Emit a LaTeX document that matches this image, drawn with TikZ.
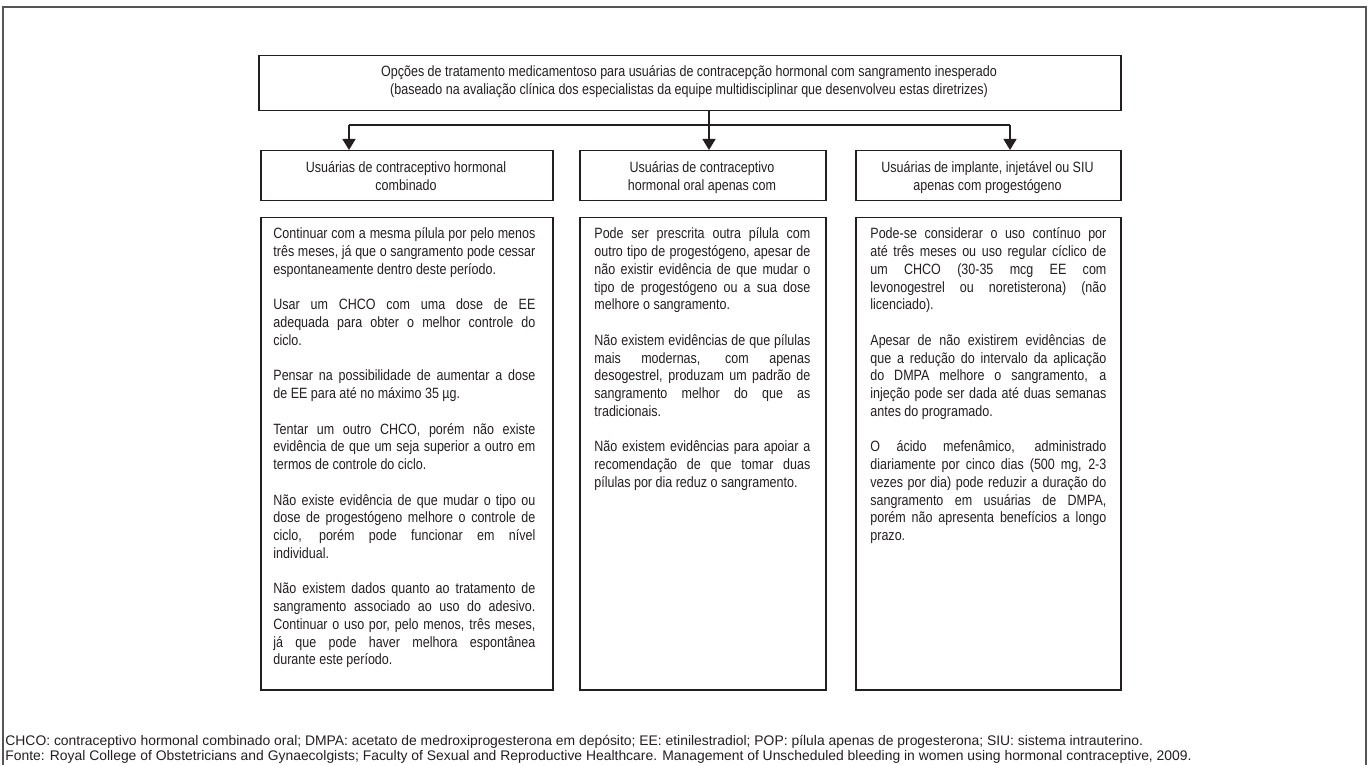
\documentclass[tikz,border=0pt]{standalone}
\usepackage{fontspec}
\setmainfont[FakeStretch=0.84]{Liberation Sans}
\newfontfamily\fnfont{Liberation Sans}
\usetikzlibrary{arrows.meta}
\definecolor{ink}{HTML}{231F20}
\definecolor{framec}{HTML}{555555}
\newlength\cw
\newcommand{\jl}[1]{\makebox[\cw][s]{#1}\\}
\newcommand{\pgap}{\\[8.875pt]}
\newcommand{\bodyfont}{\fontsize{7.45pt}{8.875pt}\selectfont}
\begin{document}
\begin{tikzpicture}[x=0.5pt,y=-0.5pt,
  box/.style={draw=ink, line width=0.75pt, inner sep=0pt, anchor=north west},
  conn/.style={draw=ink, line width=0.65pt},
  arr/.style={conn, -{Triangle[width=6.5pt,length=5.5pt]}},
  txt/.style={inner sep=0pt, text=ink, font=\bodyfont},
  fn/.style={inner sep=0pt, text=ink, anchor=base west, font=\fnfont\fontsize{6.95pt}{8pt}\selectfont}]
\useasboundingbox (0,0) rectangle (1372,765);
% outer frame
\draw[framec, line width=0.6pt] (3,765) -- (3,7) -- (1366,7) -- (1366,765);
% title
\node[box, minimum width=431pt, minimum height=27.5pt] (title) at (258,55) {};
\node[txt, anchor=base] (titletxt) at (689,77) {\parbox[t]{431pt}{\centering\fontsize{7.45pt}{9pt}\selectfont
Opções de tratamento medicamentoso para usuárias de contracepção hormonal com sangramento inesperado\\
(baseado na avaliação clínica dos especialistas da equipe multidisciplinar que desenvolveu estas diretrizes)}};
% header boxes
\node[box, minimum width=146pt, minimum height=25pt] (hL) at (260,150) {};
\node[box, minimum width=123pt, minimum height=25pt] (hM) at (579,150) {};
\node[box, minimum width=132.5pt, minimum height=25pt] (hR) at (855,150) {};
\node[txt, anchor=base] (hLt) at (406,173) {\parbox[t]{146pt}{\centering\fontsize{7.45pt}{9pt}\selectfont Usuárias de contraceptivo hormonal\\ combinado}};
\node[txt, anchor=base] (hMt) at (702,173) {\parbox[t]{123pt}{\centering\fontsize{7.45pt}{9pt}\selectfont Usuárias de contraceptivo\\ hormonal oral apenas com}};
\node[txt, anchor=base] (hRt) at (987.5,173) {\parbox[t]{132.5pt}{\centering\fontsize{7.45pt}{9pt}\selectfont Usuárias de implante, injetável ou SIU\\ apenas com progestógeno}};
% connectors
\coordinate (jL) at (349,125);
\coordinate (jM) at (709,125);
\coordinate (jR) at (1010,125);
\draw[conn] (jL) -- (jR);
\draw[arr] (jM |- title.south) -- (jM |- hM.north);
\draw[arr] (jL) -- (jL |- hL.north);
\draw[arr] (jR) -- (jR |- hR.north);
% body boxes
\node[box, minimum width=146pt, minimum height=236pt] (bL) at (260,217) {};
\node[box, minimum width=123pt, minimum height=236pt] (bM) at (579,217) {};
\node[box, minimum width=132.5pt, minimum height=236pt] (bR) at (855,217) {};
% left body text
\node[txt, anchor=base west] (bLt) at (273,239) {\setlength\cw{131pt}\parbox[t]{\cw}{\bodyfont
\jl{Continuar com a mesma pílula por pelo menos}
\jl{três meses, já que o sangramento pode cessar}
espontaneamente dentro deste período.\pgap
\jl{Usar um CHCO com uma dose de EE}
\jl{adequada para obter o melhor controle do}
ciclo.\pgap
\jl{Pensar na possibilidade de aumentar a dose}
de EE para até no máximo 35 µg.\pgap
\jl{Tentar um outro CHCO, porém não existe}
\jl{evidência de que um seja superior a outro em}
termos de controle do ciclo.\pgap
\jl{Não existe evidência de que mudar o tipo ou}
\jl{dose de progestógeno melhore o controle de}
\jl{ciclo, porém pode funcionar em nível}
individual.\pgap
\jl{Não existem dados quanto ao tratamento de}
\jl{sangramento associado ao uso do adesivo.}
\jl{Continuar o uso por, pelo menos, três meses,}
\jl{já que pode haver melhora espontânea}
durante este período.}};
% middle body text
\node[txt, anchor=base west] (bMt) at (594,239) {\setlength\cw{108pt}\parbox[t]{\cw}{\bodyfont
\jl{Pode ser prescrita outra pílula com}
\jl{outro tipo de progestógeno, apesar de}
\jl{não existir evidência de que mudar o}
\jl{tipo de progestógeno ou a sua dose}
melhore o sangramento.\pgap
\jl{Não existem evidências de que pílulas}
\jl{mais modernas, com apenas}
\jl{desogestrel, produzam um padrão de}
\jl{sangramento melhor do que as}
tradicionais.\pgap
\jl{Não existem evidências para apoiar a}
\jl{recomendação de que tomar duas}
pílulas por dia reduz o sangramento.}};
% right body text
\node[txt, anchor=base west] (bRt) at (870,239) {\setlength\cw{118pt}\parbox[t]{\cw}{\bodyfont
\jl{Pode-se considerar o uso contínuo por}
\jl{até três meses ou uso regular cíclico de}
\jl{um CHCO (30-35 mcg EE com}
\jl{levonogestrel ou noretisterona) (não}
licenciado).\pgap
\jl{Apesar de não existirem evidências de}
\jl{que a redução do intervalo da aplicação}
\jl{do DMPA melhore o sangramento, a}
\jl{injeção pode ser dada até duas semanas}
antes do programado.\pgap
\jl{O ácido mefenâmico, administrado}
\jl{diariamente por cinco dias (500 mg, 2-3}
\jl{vezes por dia) pode reduzir a duração do}
\jl{sangramento em usuárias de DMPA,}
\jl{porém não apresenta benefícios a longo}
prazo.}};
% footnotes
\node[fn] (fn1) at (5,745) {CHCO: contraceptivo hormonal combinado oral; DMPA: acetato de medroxiprogesterona em depósito; EE: etinilestradiol; POP: pílula apenas de progesterona; SIU: sistema intrauterino.};
\node[fn] (fn2) at (5,760) {Fonte: Royal College of Obstetricians and Gynaecolgists; Faculty of Sexual and Reproductive Healthcare. Management of Unscheduled bleeding in women using hormonal contraceptive, 2009.};
\end{tikzpicture}
\end{document}
